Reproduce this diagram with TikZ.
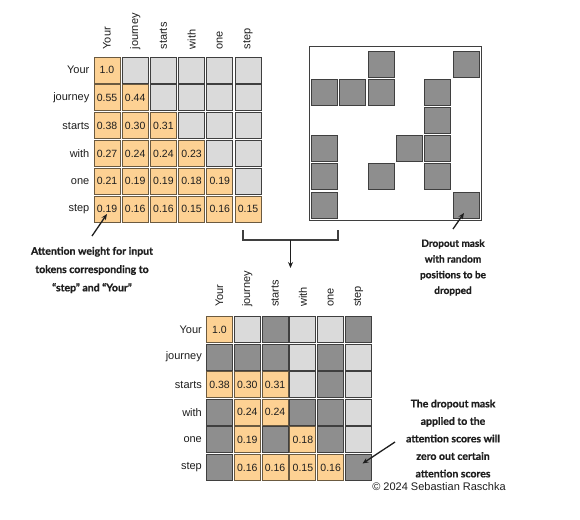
\documentclass[tikz,border=0pt]{standalone}
\usepackage{fontspec}
\setmainfont{Liberation Sans}
\newfontfamily\notefont{Lato}[BoldFeatures={FakeBold=0.7}]
\usetikzlibrary{arrows.meta, positioning}
\definecolor{wfill}{HTML}{FDD193}
\definecolor{wedge}{HTML}{6B5A40}
\definecolor{lightfill}{HTML}{DADADA}
\definecolor{darkfill}{HTML}{8E8E8E}
\definecolor{celledge}{HTML}{3F3F3F}
\definecolor{txt}{HTML}{1E1E1E}

\begin{document}
\begin{tikzpicture}[x=1pt, y=-1pt,
  cell/.style={rectangle, draw=celledge, line width=0.9pt, minimum size=26pt,
               inner sep=0pt, text=txt, font=\fontsize{10.5}{12}\selectfont},
  wcell/.style={cell, draw=wedge, fill=wfill},
  lcell/.style={cell, fill=lightfill},
  dcell/.style={cell, fill=darkfill},
  rowlab/.style={inner sep=1pt, text=txt, font=\fontsize{11}{13}\selectfont},
  collab/.style={inner sep=1pt, rotate=90, text=txt, font=\fontsize{11}{13}\selectfont},
  note/.style={align=center, inner sep=0pt, text=txt},
  ptr/.style={draw=txt, line width=1.3pt, -{Stealth[length=6pt, width=5pt]}},
  brk/.style={draw=celledge, line width=1.1pt},
]
\path[use as bounding box, fill=white] (0,0) rectangle (580,519);
% ---- attention weights (top left)
\foreach \r/\vals in {1/{1.0}, 2/{0.55,0.44}, 3/{0.38,0.30,0.31},
    4/{0.27,0.24,0.24,0.23}, 5/{0.21,0.19,0.19,0.18,0.19},
    6/{0.19,0.16,0.16,0.15,0.16,0.15}}
  \foreach \v [count=\c] in \vals
    \node[wcell] (attn-\r-\c) at ({107+28.2*(\c-1)}, {70+27.8*(\r-1)}) {\v};
\foreach \r in {1,...,5} {
  \pgfmathtruncatemacro\cfirst{\r+1}
  \foreach \c in {\cfirst,...,6}
    \node[lcell] (attn-\r-\c) at ({107+28.2*(\c-1)}, {70+27.8*(\r-1)}) {};
}
\foreach \w [count=\i] in {Your,journey,starts,with,one,step} {
  \node[rowlab, left=3pt of attn-\i-1] (arow-\i) {\w};
  \node[collab, above=6pt of attn-1-\i, anchor=west] (acol-\i) {\w};
}
% ---- dropout mask (top right)
\node[draw=celledge, line width=1pt, minimum width=172pt, minimum height=173pt,
      inner sep=0pt] (maskbox) at (395, 133.5) {};
\foreach \r/\c in {1/3, 1/6, 2/1, 2/2, 2/3, 2/5, 3/5, 4/1, 4/4, 4/5,
    5/1, 5/3, 5/5, 6/1, 6/6}
  \node[dcell] (mask-\r-\c) at ({324.5+28.3*(\c-1)}, {64.5+28.1*(\r-1)}) {};
% ---- bracket joining both and pointing down
\coordinate (brkL) at (243,230);
\coordinate (brkR) at (338,230);
\coordinate (brkM) at (290.5,240);
\coordinate (brkTip) at (290.5,268);
\draw[brk] (brkL) -- ++(0,10) -| (brkR);
\draw[ptr, line width=1.1pt] (brkM) -- (brkTip);
% ---- masked attention weights (bottom)
\foreach \r/\c/\v in {1/1/1.0, 3/1/0.38, 3/2/0.30, 3/3/0.31, 4/2/0.24, 4/3/0.24,
    5/2/0.19, 5/4/0.18, 6/2/0.16, 6/3/0.16, 6/4/0.15, 6/5/0.16}
  \node[wcell] (drop-\r-\c) at ({219.5+27.8*(\c-1)}, {329.5+27.6*(\r-1)}) {\v};
\foreach \r/\c in {1/2, 1/4, 1/5, 2/4, 2/6, 3/4, 3/6, 4/6, 5/6}
  \node[lcell] (drop-\r-\c) at ({219.5+27.8*(\c-1)}, {329.5+27.6*(\r-1)}) {};
\foreach \r/\c in {1/3, 1/6, 2/1, 2/2, 2/3, 2/5, 3/5, 4/1, 4/4, 4/5,
    5/1, 5/3, 5/5, 6/1, 6/6}
  \node[dcell] (drop-\r-\c) at ({219.5+27.8*(\c-1)}, {329.5+27.6*(\r-1)}) {};
\foreach \w [count=\i] in {Your,journey,starts,with,one,step} {
  \node[rowlab, left=3pt of drop-\i-1] (drow-\i) {\w};
  \node[collab, above=8pt of drop-1-\i, anchor=west] (dcol-\i) {\w};
}
% ---- annotations
\node[note, font=\notefont\bfseries\fontsize{10.5}{18.3}\selectfont] (note-attn) at (92, 270)
  {Attention weight for input\\tokens corresponding to\\“step” and “Your”};
\node[note, font=\notefont\bfseries\fontsize{10}{15.7}\selectfont] (note-mask) at (453, 267.5)
  {Dropout mask\\with random\\positions to be\\dropped};
\node[note, font=\notefont\bfseries\fontsize{10.5}{17.5}\selectfont] (note-drop) at (453, 438.5)
  {The dropout mask\\applied to the\\attention scores will\\zero out certain\\attention scores};
\coordinate (tail-attn) at (92,236);
\coordinate (tail-mask) at (453,229);
\coordinate (tail-drop) at (395,442);
\draw[ptr] (tail-attn) -- ([yshift=-5pt]attn-6-1.center);
\draw[ptr] (tail-mask) -- ([xshift=-2pt, yshift=-8pt]mask-6-6.center);
\draw[ptr] (tail-drop) -- ([xshift=4pt, yshift=4pt]drop-6-6.center);
\node[text=txt, font=\fontsize{11}{13}\selectfont] (credit) at (439, 487)
  {© 2024 Sebastian Raschka};
\end{tikzpicture}
\end{document}
